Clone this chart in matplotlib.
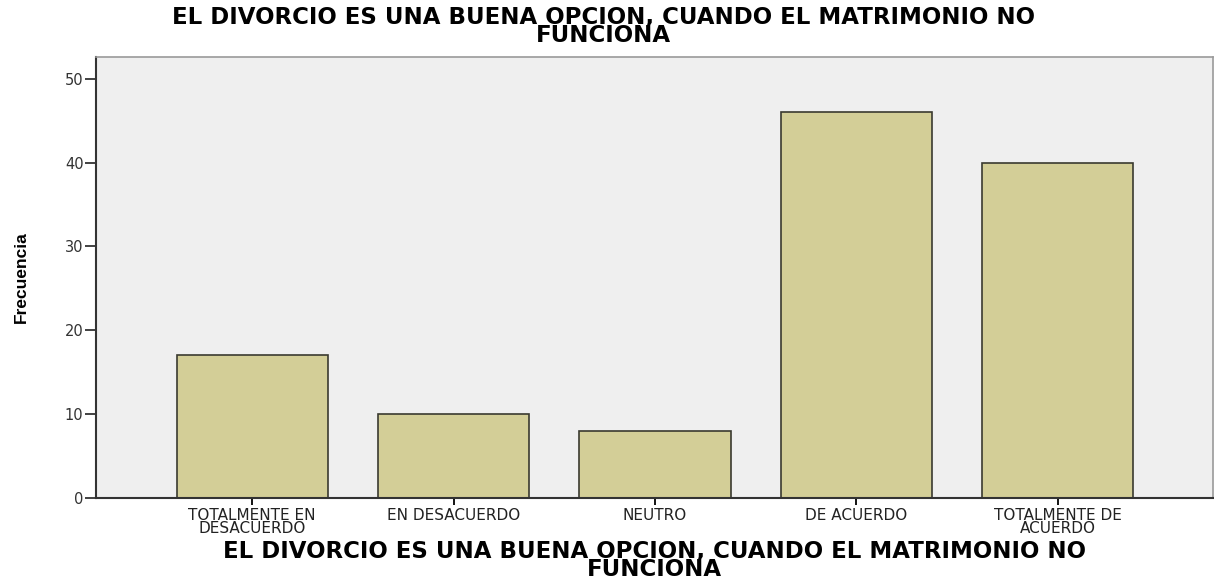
import matplotlib.pyplot as plt

categories = ['TOTALMENTE EN\nDESACUERDO', 'EN DESACUERDO', 'NEUTRO',
              'DE ACUERDO', 'TOTALMENTE DE\nACUERDO']
freqs = [17, 10, 8, 46, 40]
yticks = [0, 10, 20, 30, 40, 50]
title = 'EL DIVORCIO ES UNA BUENA OPCION, CUANDO EL MATRIMONIO NO\nFUNCIONA'

plt.rcParams['font.family'] = ['DejaVu Sans']

fig = plt.figure(figsize=(12.14, 5.83), dpi=100)
ax = fig.add_axes([0.0791, 0.1458, 0.920, 0.7564])
ax.set_facecolor('#efefef')

x = list(range(len(categories)))
ax.bar(x, freqs, width=0.75, color='#d3ce97', edgecolor='#3a3a30', linewidth=1.2, zorder=2)

ax.set_xlim(-0.775, 4.77)
ax.set_ylim(0, 52.6)
ax.set_yticks(yticks)
ax.set_xticks(x)
ax.set_xticklabels(categories, fontsize=11, linespacing=0.85, color='#222222')
ax.tick_params(axis='y', length=8, width=1.3, labelsize=10.5, colors='#333333', pad=1)
ax.tick_params(axis='x', length=5, width=1.3, pad=2)

for s in ['left', 'bottom']:
    ax.spines[s].set_color('#333333')
    ax.spines[s].set_linewidth(1.5)
for s in ['top', 'right']:
    ax.spines[s].set_color('#9a9a9a')
    ax.spines[s].set_linewidth(1.2)

ax.set_ylabel('Frecuencia', fontsize=12.5, fontweight='bold',
              family='Liberation Sans', labelpad=26)
ax.set_xlabel(title, fontsize=16.5, fontweight='bold', linespacing=0.72, labelpad=3)
fig.text(0.497, 0.99, title, ha='center', va='top', fontsize=16.5,
         fontweight='bold', linespacing=0.72)

fig.savefig('out.png', dpi=100)
